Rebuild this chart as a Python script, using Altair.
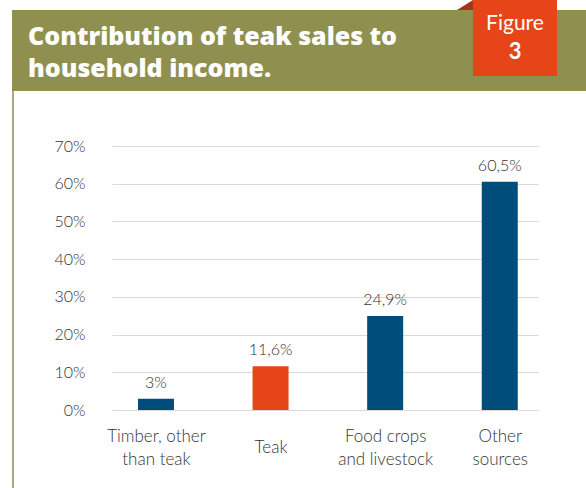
import altair as alt
import pandas as pd

# ---- data ----
categories = ["Timber, other than teak", "Teak", "Food crops and livestock", "Other sources"]
label_lines = [["Timber, other", "than teak"], ["Teak"], ["Food crops", "and livestock"], ["Other", "sources"]]
values = [3.0, 11.6, 24.9, 60.5]
value_labels = ["3%", "11,6%", "24,9%", "60,5%"]
highlight = [False, True, False, False]
y_ticks = [0, 10, 20, 30, 40, 50, 60, 70]
title_text = "Contribution of teak sales to\nhousehold income."
figure_word = "Figure"
figure_number = "3"

BLUE = "#004C7B"
ORANGE = "#E64519"
OLIVE = "#8F904F"
OLIVE_LIGHT = "#ABA97D"
TEXT = "#333333"
FONT = "Lato"
W = 300

df = pd.DataFrame({
    "idx": list(range(len(categories))),
    "category": categories,
    "value": values,
    "vlabel": value_labels,
    "hl": highlight,
})

label_js = "[" + ",".join("[" + ",".join("'" + s + "'" for s in ls) + "]" for ls in label_lines) + "]"

x_enc = alt.X("idx:Q", scale=alt.Scale(domain=[-0.34, 3.29], nice=False, zero=False),
              axis=alt.Axis(values=list(range(len(categories))), labelExpr=f"{label_js}[datum.value]",
                            title=None, grid=False, domain=False, ticks=False,
                            labelBaseline="middle",
                            labelPadding={"condition": {"test": "datum.value === 1", "value": 37}, "value": 26},
                            labelLineHeight=23,
                            labelFont=FONT, labelFontSize=17, labelFontWeight=W, labelColor=TEXT))
y_enc = alt.Y("value:Q", scale=alt.Scale(domain=[0, 70], nice=False),
              axis=alt.Axis(values=y_ticks, labelExpr="datum.value + '%'", title=None,
                            domain=False, ticks=False, grid=True, gridColor="#D9D9D9", gridWidth=1.2,
                            labelPadding=27, labelFont=FONT, labelFontSize=16, labelFontWeight=W,
                            labelColor=TEXT))

bars = alt.Chart(df).mark_bar(size=36).encode(
    x=x_enc, y=y_enc,
    color=alt.Color("hl:N", scale=alt.Scale(domain=[False, True], range=[BLUE, ORANGE]), legend=None),
)

vals = alt.Chart(df).mark_text(dy=-11, baseline="alphabetic", font=FONT, fontSize=16, fontWeight=W,
                               color=TEXT).encode(
    x=x_enc, y=y_enc, text="vlabel:N"
)

one = pd.DataFrame({"k": [0]})

banner = alt.Chart(one).mark_rect(color=OLIVE).encode(
    x=alt.value(-100), x2=alt.value(474), y=alt.value(-136), y2=alt.value(-55))
side = alt.Chart(one).mark_rect(color=OLIVE_LIGHT).encode(
    x=alt.value(-100), x2=alt.value(-98), y=alt.value(-55), y2=alt.value(342))
figbox = alt.Chart(one).mark_rect(color=ORANGE).encode(
    x=alt.value(361), x2=alt.value(445), y=alt.value(-146), y2=alt.value(-70))
fold = alt.Chart(one).mark_point(shape="M -1 1 L 1 1 L 1 -0.25 Z", filled=True, opacity=1,
                                 color="#A8321A", size=256).encode(
    x=alt.value(353), y=alt.value(-144))

title_df = pd.DataFrame({"t": [title_text]})
title = alt.Chart(title_df).mark_text(lineBreak="\n", align="left", baseline="alphabetic",
                                       font="Open Sans", fontSize=25, fontWeight=800, color="white",
                                       lineHeight=32).encode(
    x=alt.value(-84), y=alt.value(-101), text="t:N")

fig_df = pd.DataFrame({"w": [figure_word], "n": [figure_number]})
fig_word = alt.Chart(fig_df).mark_text(align="center", baseline="alphabetic", font=FONT, fontSize=21,
                                       color="white").encode(
    x=alt.value(403), y=alt.value(-116), text="w:N")
fig_num = alt.Chart(fig_df).mark_text(align="center", baseline="alphabetic", font=FONT, fontSize=22,
                                      fontWeight="bold", color="white").encode(
    x=alt.value(403), y=alt.value(-87), text="n:N")

chart = alt.layer(bars, vals, banner, side, fold, figbox, title, fig_word, fig_num).properties(
    width=426, height=264,
    padding={"left": 112, "top": 146, "right": 48, "bottom": 78},
    autosize=alt.AutoSizeParams(type="none"),
    background="white",
).configure_view(stroke=None)

chart.save("out.html", embed_options={"renderer": "svg", "actions": False})
